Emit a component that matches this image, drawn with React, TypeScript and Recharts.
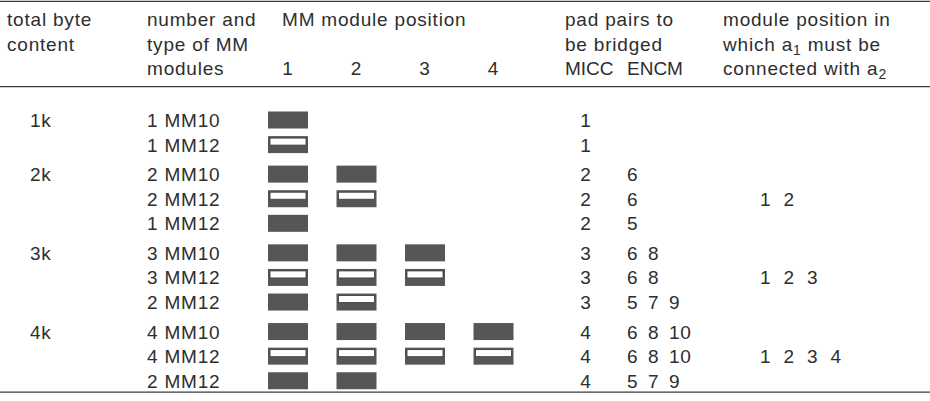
import { ReferenceLine, Scatter, ScatterChart, XAxis, YAxis } from "recharts"

// table content, one entry per table row
const capacity = ["1k", "2k", "3k", "4k"]
const rowGroup = [0, 0, 1, 1, 1, 2, 2, 2, 3, 3, 3]
const moduleCount = [1, 1, 2, 2, 1, 3, 3, 2, 4, 4, 2]
const moduleType = ["MM10", "MM12", "MM10", "MM12", "MM12", "MM10", "MM12", "MM12", "MM10", "MM12", "MM12"]
// s = solid module, o = open module (one letter per occupied position)
const blockStyle = ["s", "o", "ss", "oo", "s", "sss", "ooo", "so", "ssss", "oooo", "ss"]
const miccPads = [1, 1, 2, 2, 2, 3, 3, 3, 4, 4, 4]
const encmPads = [[], [], [6], [6], [5], [6, 8], [6, 8], [5, 7, 9], [6, 8, 10], [6, 8, 10], [5, 7, 9]]
const a1a2Positions = [[], [], [], [1, 2], [], [], [1, 2, 3], [], [], [1, 2, 3, 4], []]
const modulePositions = [1, 2, 3, 4]

// header texts
const headTotal = ["total byte", "content"]
const headType = ["number and", "type of MM", "modules"]
const headPosition = ["MM module position"]
const headPads = ["pad pairs to", "be bridged"]
const padColumns = ["MICC", "ENCM"]

// layout
const W = 930
const H = 401
const ROW0 = 120
const ROW_H = 24.6
const GROUP_GAP = 0.2
const HEAD_TOP = 26
const HEAD_LINE = 24.5
const RULES = [-4.82, -1.36, 11.06]
const COL = { head1: 7, head2: 147, head3: 282, head4: 565, head5: 723, cap: 30, type: 147, micc: 586, encm: 627, conn: 760 }
const MOD_X1 = 288
const MOD_PITCH = 68.5
const BLOCK_W = 40
const BLOCK_H = 17
const PAD_STEP = 21
const CONN_STEP = 23.5
const FONT = "'Liberation Sans', Arial, sans-serif"
const INK = "#2e2e2e"
const FS = 19

const slotOf = (i: number) => i + rowGroup[i] * GROUP_GAP
const toSlot = (px: number) => (px - ROW0) / ROW_H
const yDomain = [toSlot(0), toSlot(H)]
const modDomain = [1 - MOD_X1 / MOD_PITCH, 1 + (W - MOD_X1) / MOD_PITCH]
const headSlot = toSlot(HEAD_TOP)
const headSlot3 = toSlot(HEAD_TOP + 2 * HEAD_LINE)

const capData = capacity.map((c, g) => ({ x: COL.cap, y: slotOf(rowGroup.indexOf(g)), label: c }))
const typeData = moduleType.map((t, i) => ({ x: COL.type, y: slotOf(i), label: `${moduleCount[i]} ${t}` }))
const miccData = miccPads.map((p, i) => ({ x: COL.micc, y: slotOf(i), label: String(p) }))
const encmData = encmPads.map((p, i) => ({ x: COL.encm, y: slotOf(i), items: p }))
const connData = a1a2Positions.map((p, i) => ({ x: COL.conn, y: slotOf(i), items: p }))
const blockData = blockStyle.flatMap((s, i) =>
    s.split("").map((k, j) => ({ x: modulePositions[j], y: slotOf(i), kind: k }))
)
const headData = [
    { x: COL.head1, y: headSlot, lines: headTotal },
    { x: COL.head2, y: headSlot, lines: headType },
    { x: COL.head3, y: headSlot, lines: headPosition },
    { x: COL.head4, y: headSlot, lines: headPads },
]
const posHeadData = modulePositions.map((p) => ({ x: p, y: headSlot3, label: String(p) }))
const padHeadData = padColumns.map((p, i) => ({ x: i === 0 ? COL.head4 : COL.encm, y: headSlot3, label: p }))
const connHeadData = [{ x: COL.head5, y: headSlot }]

const textProps = { fontFamily: FONT, fontSize: FS, fill: INK, letterSpacing: 0.8 }

const rowText = (anchor: "start" | "middle") => (props: any) => (
    <text x={props.cx} y={props.cy + 7} textAnchor={anchor} {...textProps}>
        {props.payload.label}
    </text>
)

const spacedText = (step: number) => (props: any) => (
    <text y={props.cy + 7} {...textProps}>
        {props.payload.items.map((n: number, k: number) => (
            <tspan key={k} x={props.cx + k * step}>{n}</tspan>
        ))}
    </text>
)

const headText = (props: any) => (
    <text y={props.cy} {...textProps}>
        {props.payload.lines.map((l: string, k: number) => (
            <tspan key={k} x={props.cx} y={props.cy + k * HEAD_LINE}>{l}</tspan>
        ))}
    </text>
)

const headBaseline = (anchor: "start" | "middle", spacing = 0.8) => (props: any) => (
    <text x={props.cx} y={props.cy} textAnchor={anchor} {...textProps} letterSpacing={spacing}>
        {props.payload.label}
    </text>
)

const connHead = (props: any) => {
    const x = props.cx
    const y = props.cy
    return (
        <text {...textProps}>
            <tspan x={x} y={y}>module position in</tspan>
            <tspan x={x} y={y + HEAD_LINE}>which a</tspan>
            <tspan fontSize={14} dy={4}>1</tspan>
            <tspan dy={-4}> must be</tspan>
            <tspan x={x} y={y + 2 * HEAD_LINE}>connected with a</tspan>
            <tspan fontSize={14} dy={4}>2</tspan>
        </text>
    )
}

const moduleBlock = (props: any) => {
    const x = props.cx - BLOCK_W / 2
    const y = props.cy - BLOCK_H / 2
    return (
        <g>
            <rect x={x} y={y} width={BLOCK_W} height={BLOCK_H} fill="#565656" />
            {props.payload.kind === "o" && (
                <rect x={x + 2} y={y + 2} width={BLOCK_W - 4} height={7} fill="#ffffff" stroke="#3a3a3a" strokeWidth={0.8} />
            )}
        </g>
    )
}

const App = () => {
    return (
        <div style={{ width: W, height: H, background: "#ffffff" }}>
            <style>{"body{margin:0}"}</style>
            <ScatterChart width={W} height={H} margin={{ top: 0, right: 0, bottom: 0, left: 0 }}>
                <XAxis xAxisId="px" type="number" dataKey="x" domain={[0, W]} hide allowDataOverflow />
                <XAxis xAxisId="mod" type="number" dataKey="x" domain={modDomain} hide allowDataOverflow />
                <YAxis type="number" dataKey="y" domain={yDomain} reversed hide allowDataOverflow />
                {RULES.map((r) => (
                    <ReferenceLine key={r} xAxisId="px" y={r} stroke="#3a3a3a" strokeWidth={1.3} />
                ))}
                <Scatter xAxisId="px" data={headData} shape={headText} isAnimationActive={false} />
                <Scatter xAxisId="px" data={connHeadData} shape={connHead} isAnimationActive={false} />
                <Scatter xAxisId="px" data={padHeadData} shape={headBaseline("start", 0)} isAnimationActive={false} />
                <Scatter xAxisId="mod" data={posHeadData} shape={headBaseline("middle")} isAnimationActive={false} />
                <Scatter xAxisId="px" data={capData} shape={rowText("start")} isAnimationActive={false} />
                <Scatter xAxisId="px" data={typeData} shape={rowText("start")} isAnimationActive={false} />
                <Scatter xAxisId="mod" data={blockData} shape={moduleBlock} isAnimationActive={false} />
                <Scatter xAxisId="px" data={miccData} shape={rowText("middle")} isAnimationActive={false} />
                <Scatter xAxisId="px" data={encmData} shape={spacedText(PAD_STEP)} isAnimationActive={false} />
                <Scatter xAxisId="px" data={connData} shape={spacedText(CONN_STEP)} isAnimationActive={false} />
            </ScatterChart>
        </div>
    )
}

export default App
